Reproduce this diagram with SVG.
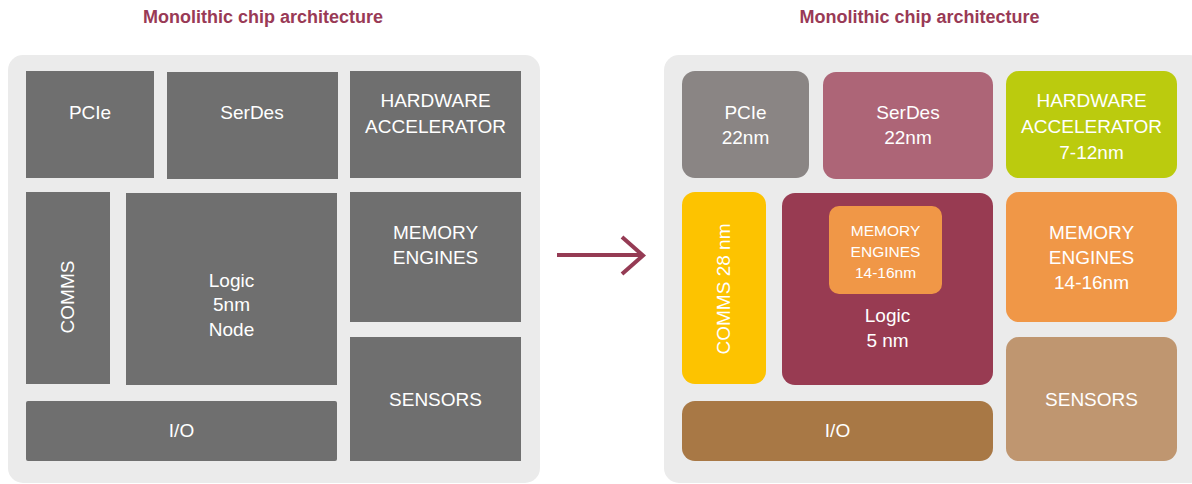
<svg xmlns="http://www.w3.org/2000/svg" width="1192" height="484" viewBox="0 0 1192 484">
<style>
.title{font-family:"Liberation Sans",Arial,sans-serif;font-weight:bold;font-size:18px;fill:#993a56;text-anchor:middle}
.panel{fill:#ebebeb}
.lb{fill:#6f6f6f}
.t{font-family:"Liberation Sans",Arial,sans-serif;font-size:19px;fill:#ffffff;text-anchor:middle}
.ts{font-family:"Liberation Sans",Arial,sans-serif;font-size:15.5px;fill:#ffffff;text-anchor:middle}
.conn{fill:none;stroke:#953b54;stroke-width:4}
</style>
<rect width="1192" height="484" fill="#ffffff"/>
<text class="title" x="263" y="23">Monolithic chip architecture</text>
<text class="title" x="919.5" y="23">Monolithic chip architecture</text>
<rect class="panel" x="8" y="55" width="532" height="428" rx="15"/>
<rect class="panel" x="664" y="55" width="540" height="428" rx="15"/>

<g id="left-pcie"><rect class="lb" x="26" y="71" width="128" height="107"/><text class="t" x="90" y="119">PCIe</text></g>
<g id="left-serdes"><rect class="lb" x="167" y="72" width="171" height="107"/><text class="t" x="252" y="119">SerDes</text></g>
<g id="left-hw"><rect class="lb" x="350" y="71" width="171" height="107"/><text class="t" x="435.5" y="107">HARDWARE</text><text class="t" x="435.5" y="133">ACCELERATOR</text></g>
<g id="left-comms"><rect class="lb" x="26" y="192" width="84" height="192"/><text class="t" transform="translate(74,297) rotate(-90)">COMMS</text></g>
<g id="left-logic"><rect class="lb" x="126" y="193" width="211" height="192"/><text class="t" x="231.5" y="286.5">Logic</text><text class="t" x="231.5" y="311">5nm</text><text class="t" x="231.5" y="335.5">Node</text></g>
<g id="left-memory"><rect class="lb" x="350" y="192" width="171" height="130"/><text class="t" x="435.5" y="239">MEMORY</text><text class="t" x="435.5" y="264">ENGINES</text></g>
<g id="left-sensors"><rect class="lb" x="350" y="337" width="171" height="124"/><text class="t" x="435.5" y="406">SENSORS</text></g>
<g id="left-io"><rect class="lb" x="26" y="401" width="311" height="60" rx="2"/><text class="t" x="181.5" y="437">I/O</text></g>

<g id="connectors"><path class="conn" d="M557 255 H642 M622 237 L643 255.5 L622 274"/></g>

<g id="right-pcie"><rect x="682" y="71" width="127" height="107" rx="13" fill="#8a8584"/><text class="t" x="745.5" y="119">PCIe</text><text class="t" x="745.5" y="144">22nm</text></g>
<g id="right-serdes"><rect x="823" y="72" width="170" height="107" rx="13" fill="#ad6577"/><text class="t" x="908" y="119">SerDes</text><text class="t" x="908" y="144">22nm</text></g>
<g id="right-hw"><rect x="1006" y="71" width="171" height="107" rx="13" fill="#bbcb0e"/><text class="t" x="1091.5" y="107">HARDWARE</text><text class="t" x="1091.5" y="133">ACCELERATOR</text><text class="t" x="1091.5" y="159">7-12nm</text></g>
<g id="right-comms"><rect x="682" y="192" width="84" height="192" rx="13" fill="#fdc300"/><text class="t" transform="translate(730,289) rotate(-90)">COMMS 28 nm</text></g>
<g id="right-logic"><rect x="782" y="193" width="211" height="192" rx="13" fill="#983b52"/><text class="t" x="887.5" y="322">Logic</text><text class="t" x="887.5" y="347">5 nm</text></g>
<g id="right-logic-memory"><rect x="829" y="206" width="113" height="88" rx="10" fill="#f09747"/><text class="ts" x="885.5" y="235.5">MEMORY</text><text class="ts" x="885.5" y="256.5">ENGINES</text><text class="ts" x="885.5" y="277.5">14-16nm</text></g>
<g id="right-memory"><rect x="1006" y="192" width="171" height="130" rx="13" fill="#f09747"/><text class="t" x="1091.5" y="239">MEMORY</text><text class="t" x="1091.5" y="264">ENGINES</text><text class="t" x="1091.5" y="289">14-16nm</text></g>
<g id="right-sensors"><rect x="1006" y="337" width="171" height="124" rx="13" fill="#bf9670"/><text class="t" x="1091.5" y="406">SENSORS</text></g>
<g id="right-io"><rect x="682" y="401" width="311" height="60" rx="13" fill="#a87845"/><text class="t" x="837.5" y="437">I/O</text></g>
</svg>
